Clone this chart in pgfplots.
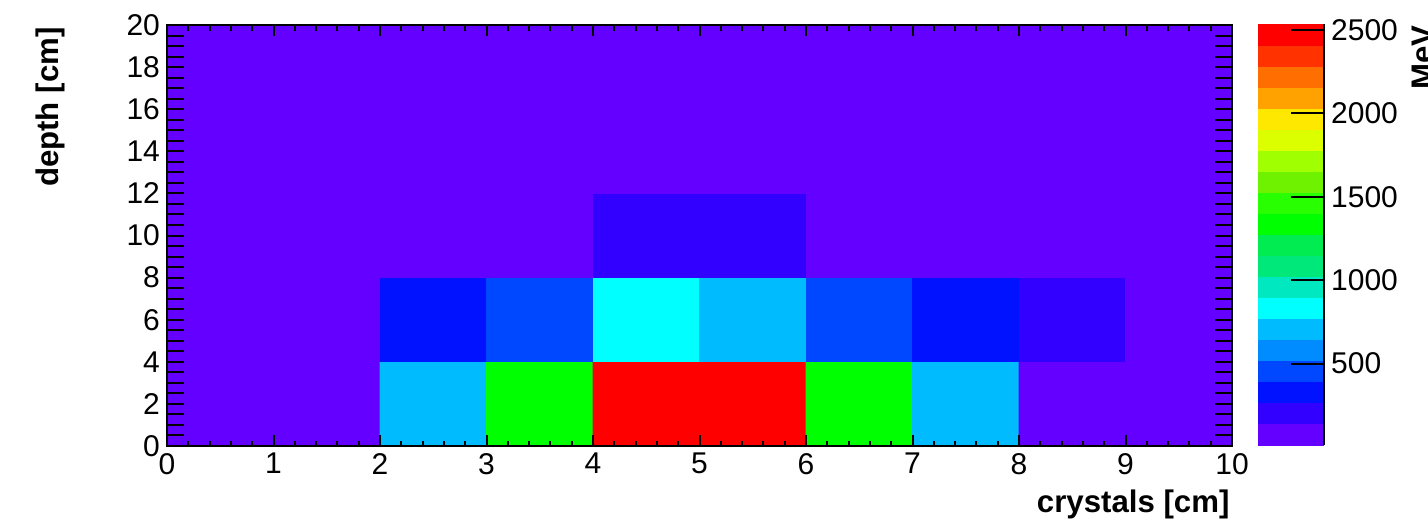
\documentclass[border=0pt]{standalone}
\usepackage{fontspec}
\setmainfont{Liberation Sans}
\usepackage{pgfplots}
\pgfplotsset{compat=1.18}
\usepackage{pgfplotstable}

% energy deposit per cell [MeV]; x = crystal centre, y = depth centre
\pgfplotstableread{
x   y   e
0.5 2   50
1.5 2   50
2.5 2   700
3.5 2   1330
4.5 2   2480
5.5 2   2480
6.5 2   1330
7.5 2   700
8.5 2   50
9.5 2   50
0.5 6   50
1.5 6   50
2.5 6   330
3.5 6   450
4.5 6   830
5.5 6   700
6.5 6   450
7.5 6   330
8.5 6   200
9.5 6   50
0.5 10  50
1.5 10  50
2.5 10  50
3.5 10  50
4.5 10  200
5.5 10  200
6.5 10  50
7.5 10  50
8.5 10  50
9.5 10  50
0.5 14  50
1.5 14  50
2.5 14  50
3.5 14  50
4.5 14  50
5.5 14  50
6.5 14  50
7.5 14  50
8.5 14  50
9.5 14  50
0.5 18  50
1.5 18  50
2.5 18  50
3.5 18  50
4.5 18  50
5.5 18  50
6.5 18  50
7.5 18  50
8.5 18  50
9.5 18  50
}\cells

\begin{document}
\begin{tikzpicture}
\begin{axis}[
    at={(0,0)}, anchor=south west,
    scale only axis,
    width=532.5pt, height=210.5pt,
    xmin=0, xmax=10, ymin=0, ymax=20,
    xtick={0,1,...,10}, minor x tick num=4,
    ytick={0,2,...,20}, minor y tick num=3,
    tick align=inside,
    axis on top,
    axis line style={line width=1pt},
    every tick/.style={black, line width=1pt},
    major tick length=8.5pt, minor tick length=8.5pt,
    major x tick style={/pgfplots/major tick length=5.5pt},
    minor x tick style={/pgfplots/minor tick length=2.75pt},
    /pgf/number format/assume math mode=true,
    /pgf/number format/1000 sep={},
    tick label style={font=\fontsize{15}{17}\selectfont},
    xlabel={crystals [cm]},
    ylabel={depth [cm]},
    label style={font=\fontsize{15.6}{18}\selectfont\bfseries, inner sep=0pt},
    xlabel style={at={(axis description cs:0.998,-0.159)}, anchor=base east},
    ylabel style={at={(axis description cs:-0.1239,0.9952)}, anchor=north east},
    colormap={rootpal}{
        rgb255=(100,0,255) rgb255=(50,0,255) rgb255=(0,18,255) rgb255=(0,72,255)
        rgb255=(0,140,255) rgb255=(0,188,255) rgb255=(0,255,255) rgb255=(0,232,192)
        rgb255=(0,232,122) rgb255=(0,236,80) rgb255=(0,255,0) rgb255=(40,255,0)
        rgb255=(110,242,0) rgb255=(160,255,0) rgb255=(220,255,0) rgb255=(255,232,0)
        rgb255=(255,162,0) rgb255=(255,110,0) rgb255=(255,50,0) rgb255=(255,0,0)},
    colormap access=piecewise constant,
    point meta min=12, point meta max=2536,
    colorbar,
    colorbar style={
        at={(parent axis.north east)}, anchor=north west,
        xshift=4.5pt, yshift=0.5pt,
        width=33pt,
        ytick={500,1000,1500,2000,2500},
        scaled y ticks=false,
        yticklabel pos=right,
        ytick pos=right,
        tick align=inside,
        major tick length=16.5pt,
        minor y tick num=0,
        every tick/.style={black, line width=1pt},
        axis line style={draw=none},
        /pgf/number format/assume math mode=true,
        /pgf/number format/1000 sep={},
        yticklabel style={font=\fontsize{15}{17}\selectfont},
        after end axis/.code={\draw[line width=1pt] (rel axis cs:1,0) -- (rel axis cs:1,1);},
    },
]
\addplot[matrix plot*, mesh/cols=10, mesh/rows=5, point meta=explicit]
    table[x=x, y=y, meta=e] {\cells};
\end{axis}
\node[rotate=90, anchor=north east, inner sep=0pt,
      font=\fontsize{15.6}{18}\selectfont\bfseries] at (622.5pt,210.5pt) {MeV};
\pgfresetboundingbox
\useasboundingbox (-83.5pt,-37pt) rectangle (630.5pt,223pt);
\end{tikzpicture}
\end{document}
